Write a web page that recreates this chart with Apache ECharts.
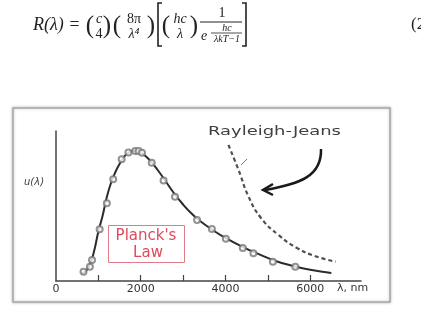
<!DOCTYPE html>
<html>
<head>
<meta charset="utf-8">
<script src="https://cdn.jsdelivr.net/npm/echarts@6/dist/echarts.min.js"></script>
<style>
    html, body { margin: 0; padding: 0; background: #fff; }
    #grafico { width: 421px; height: 310px; }
</style>
</head>
<body>
<div id="grafico"></div>
<script>
// curva de Planck (linha continua)
const planckLam = [600, 700, 800, 900, 1000, 1100, 1200, 1300, 1400, 1500, 1600, 1700, 1800, 1900, 2000, 2200, 2400, 2600, 2800, 3000, 3200, 3400, 3700, 4000, 4400, 4800, 5200, 5600, 6000, 6500]
const planckU = [5, 6.5, 11, 20, 33, 43.5, 56, 65.5, 72.5, 78, 82.5, 85.3, 86.5, 86.8, 85.8, 81, 74, 66, 58, 51, 45, 40, 34, 28.7, 22.8, 17.8, 13.2, 10, 7.5, 5.3]

// pontos medidos (circulos)
const medLam = [650, 800, 850, 1030, 1200, 1350, 1550, 1710, 1870, 1950, 2030, 2260, 2540, 2810, 3330, 3680, 4010, 4410, 4660, 5120, 5650]
const medU = [6.2, 9.5, 14, 34.5, 51.8, 67.8, 81.1, 85.7, 86.7, 86.7, 85.5, 78.9, 67, 56.2, 40.7, 34.7, 28.1, 22, 18.5, 12.9, 9.5]

// Rayleigh-Jeans (tracejada)
const rjLam = [4070, 4310, 4550, 4840, 5250, 5700, 6160, 6600]
const rjU = [90.7, 74, 56, 42, 30.7, 21.8, 16.2, 12.9]

const ticksX = [1000, 2000, 3000, 4000, 5000, 6000]
const labelsX = [0, 2000, 4000, 6000]

const pares = (xs, ys) => xs.map((x, i) => [x, ys[i]])

const serif = (tam, italico) => `${italico ? 'italic ' : ''}${tam}px "Liberation Serif", "DejaVu Serif", serif`
const sans = (tam, italico) => `${italico ? 'italic ' : ''}${tam}px "DejaVu Sans", sans-serif`

const texto = (x, y, t, font, cor, alinh, extra) => Object.assign({
    type: 'text',
    x: x,
    y: y,
    silent: true,
    style: {
        text: t,
        font: font,
        fill: cor || '#222',
        align: alinh || 'center',
        verticalAlign: 'middle',
        textAlign: alinh || 'center',
        textVerticalAlign: 'middle'
    }
}, extra || {})

const linha = (pts, cor, larg) => ({
    type: 'polyline',
    silent: true,
    shape: { points: pts },
    style: { stroke: cor || '#222', lineWidth: larg || 1, fill: null }
})

// formula no topo
const formula = [
    texto(33, 25, 'R(λ) =', serif(18, true), '#222', 'left'),
    texto(90, 26, '(', serif(25)),
    texto(99, 19, 'c', serif(14, true)),
    texto(99, 34, '4', serif(14)),
    texto(107, 26, ')', serif(25)),
    texto(117, 26, '(', serif(25)),
    texto(134, 19, '8π', serif(14)),
    texto(134, 34, 'λ⁴', serif(14, true)),
    texto(151, 26, ')', serif(25)),
    linha([[162, 3], [158, 3], [158, 46], [162, 46]], '#222', 1.6),
    texto(166, 26, '(', serif(25)),
    texto(180, 19, 'hc', serif(14, true)),
    texto(180, 34, 'λ', serif(14, true)),
    texto(194, 26, ')', serif(25)),
    texto(222, 13, '1', serif(14)),
    linha([[200, 22], [242, 22]], '#222', 1),
    texto(204, 36, 'e', serif(14, true)),
    texto(227, 28, 'hc', serif(10, true)),
    linha([[211, 33], [242, 33]], '#222', 0.8),
    texto(227, 39, 'λkT−1', serif(10, true)),
    linha([[242, 3], [246, 3], [246, 46], [242, 46]], '#222', 1.6),
    texto(411, 25, '(2)', serif(17), '#222', 'left')
]

// moldura, anotacoes e seta
const anotacoes = [
    {
        type: 'rect',
        silent: true,
        z: -1,
        shape: { x: 13, y: 108, width: 377, height: 194 },
        style: { fill: '#fff', stroke: '#a8a8a8', lineWidth: 1.5, shadowBlur: 3, shadowColor: 'rgba(0,0,0,0.25)' }
    },
    texto(208, 132, 'Rayleigh-Jeans', sans(13), '#3f3f3f', 'left', { scaleX: 1.38 }),
    {
        type: 'rect',
        silent: true,
        shape: { x: 108.5, y: 225.5, width: 76, height: 37 },
        style: { fill: '#fff', stroke: '#e37b86', lineWidth: 1 }
    },
    texto(146, 236, "Planck's", sans(15), '#de4a5a'),
    texto(148, 253, 'Law', sans(15), '#de4a5a'),
    texto(34, 182, 'u(λ)', sans(10, true), '#444'),
    texto(337, 288, 'λ, nm', sans(11), '#333', 'left'),
    {
        type: 'bezierCurve',
        silent: true,
        shape: { x1: 321, y1: 149, x2: 265, y2: 190, cpx1: 322, cpy1: 176, cpx2: 300, cpy2: 184 },
        style: { stroke: '#1a1a1a', lineWidth: 2.5, fill: null }
    },
    linha([[273, 184], [263, 190], [273, 195]], '#1a1a1a', 2.5),
    linha([[241, 165], [247, 159]], '#777', 1)
]

const myChart = echarts.init(document.getElementById('grafico'), null, { renderer: 'canvas' })

const option = {
    animation: false,
    backgroundColor: '#fff',
    grid: { left: 56, top: 131, right: 60, bottom: 29 },
    xAxis: {
        type: 'value',
        min: 0,
        max: 7200,
        splitLine: { show: false },
        axisLine: { lineStyle: { color: '#444', width: 1.5 } },
        axisTick: {
            inside: true,
            length: 6,
            customValues: ticksX,
            lineStyle: { color: '#444', width: 1.2 }
        },
        axisLabel: {
            customValues: labelsX,
            formatter: v => String(v),
            margin: 3,
            color: '#333',
            fontSize: 11,
            fontFamily: '"DejaVu Sans", sans-serif'
        }
    },
    yAxis: {
        type: 'value',
        min: 0,
        max: 100,
        splitLine: { show: false },
        axisLine: { show: true, lineStyle: { color: '#444', width: 1.5 } },
        axisTick: { show: false },
        axisLabel: { show: false }
    },
    graphic: { elements: [...anotacoes, ...formula] },
    series: [
        {
            type: 'line',
            data: pares(planckLam, planckU),
            smooth: true,
            showSymbol: false,
            lineStyle: { color: '#2b2b2b', width: 2 },
            z: 3
        },
        {
            type: 'scatter',
            data: pares(medLam, medU),
            symbol: 'emptyCircle',
            symbolSize: 6,
            itemStyle: { color: '#777', borderColor: '#777', borderWidth: 0.8 },
            z: 4
        },
        {
            type: 'line',
            data: pares(rjLam, rjU),
            smooth: true,
            showSymbol: false,
            lineStyle: { color: '#505050', width: 2.2, type: [4, 3] },
            z: 3
        }
    ]
}

myChart.setOption(option)
</script>
</body>
</html>
